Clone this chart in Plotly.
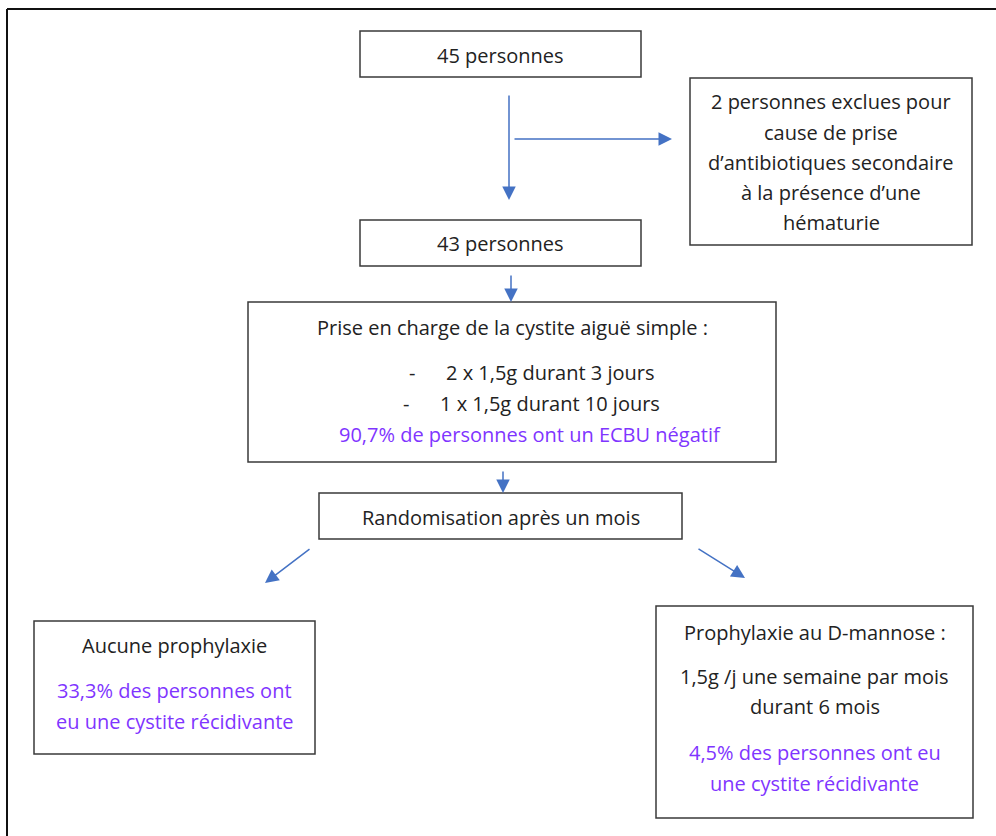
import plotly.graph_objects as go

# ---- content (text) ----
box_start_text = ["45 personnes"]
box_excluded_text = ["2 personnes exclues pour", "cause de prise",
                     "d\u2019antibiotiques secondaire", "\u00e0 la pr\u00e9sence d\u2019une", "h\u00e9maturie"]
box_included_text = ["43 personnes"]
box_treatment_title = ["Prise en charge de la cystite aigu\u00eb simple :"]
box_treatment_items = ["2 x 1,5g durant 3 jours", "1 x 1,5g durant 10 jours"]
box_treatment_result = ["90,7% de personnes ont un ECBU n\u00e9gatif"]
box_random_text = ["Randomisation apr\u00e8s un mois"]
box_none_text = ["Aucune prophylaxie"]
box_none_result = ["33,3% des personnes ont", "eu une cystite r\u00e9cidivante"]
box_dm_text = ["Prophylaxie au D-mannose :", "1,5g /j une semaine par mois", "durant 6 mois"]
box_dm_result = ["4,5% des personnes ont eu", "une cystite r\u00e9cidivante"]

# ---- layout geometry (pixels, y downwards) ----
W, H = 996, 836
FONT = "Open Sans"
FS = 20
BLACK = "#222222"
PURPLE = "#7F35FF"
BLUE = "#4472C4"
EDGE = "#3a3a3a"

boxes = [
    (360, 31, 641, 77),
    (690, 78, 972, 245),
    (360, 220, 641, 266),
    (248, 302, 776, 462),
    (319, 493, 682, 539),
    (34, 621, 315, 754),
    (656, 606, 973, 818),
]

arrows = [
    ((509, 94), (509, 200)),
    ((513, 139), (672, 139)),
    ((511, 274), (511, 302)),
    ((503, 470), (503, 493)),
    ((311, 548), (265, 583)),
    ((697, 548), (745, 578)),
]

texts = []  # (x, y, text, color)
texts.append((500.5, 55, box_start_text[0], BLACK))
for t, y in zip(box_excluded_text, [101, 132, 162, 192, 222]):
    texts.append((831, y, t, BLACK))
texts.append((500.5, 243, box_included_text[0], BLACK))
texts.append((512, 327, box_treatment_title[0], BLACK))
for t, y, dx in zip(box_treatment_items, [372, 403], [412, 406]):
    texts.append((550, y, t, BLACK))
    texts.append((dx, y, "-", BLACK))
texts.append((530, 434, box_treatment_result[0], PURPLE))
texts.append((500.5, 517, box_random_text[0], BLACK))
texts.append((174.5, 645, box_none_text[0], BLACK))
for t, y in zip(box_none_result, [690, 721]):
    texts.append((174.5, y, t, PURPLE))
for t, y in zip(box_dm_text, [632, 676, 706]):
    texts.append((814.5, y, t, BLACK))
for t, y in zip(box_dm_result, [752, 783]):
    texts.append((814.5, y, t, PURPLE))

fig = go.Figure()
fig.add_trace(go.Scatter(x=[0, W], y=[0, H], mode="markers",
                         marker=dict(opacity=0), hoverinfo="skip", showlegend=False))

shapes = []
# outer frame (top and left edges visible)
shapes.append(dict(type="line", xref="x", yref="y", x0=7, y0=9, x1=W, y1=9,
                   line=dict(color="#111111", width=2)))
shapes.append(dict(type="line", xref="x", yref="y", x0=7, y0=9, x1=7, y1=H,
                   line=dict(color="#111111", width=2)))
for (x0, y0, x1, y1) in boxes:
    shapes.append(dict(type="rect", xref="x", yref="y", x0=x0, y0=y0, x1=x1, y1=y1,
                       line=dict(color=EDGE, width=1.5), fillcolor="rgba(0,0,0,0)"))

annotations = []
for (s, e) in arrows:
    annotations.append(dict(x=e[0], y=e[1], ax=s[0], ay=s[1], xref="x", yref="y",
                            axref="x", ayref="y", text="", showarrow=True,
                            arrowhead=2, arrowsize=1.8, arrowwidth=1.5,
                            arrowcolor=BLUE, standoff=0, startstandoff=0))
for (x, y, t, c) in texts:
    annotations.append(dict(x=x, y=y, xref="x", yref="y", text=t, showarrow=False,
                            xanchor="center", yanchor="middle",
                            font=dict(family=FONT, size=FS, color=c)))

fig.update_layout(
    width=W, height=H,
    margin=dict(l=0, r=0, t=0, b=0),
    paper_bgcolor="white", plot_bgcolor="white",
    xaxis=dict(range=[0, W], visible=False, fixedrange=True),
    yaxis=dict(range=[H, 0], visible=False, fixedrange=True),
    shapes=shapes, annotations=annotations,
    showlegend=False,
)
fig.write_html("out.html", config={"displayModeBar": False},
               post_script="document.body.style.margin='0';document.body.style.padding='0';")
